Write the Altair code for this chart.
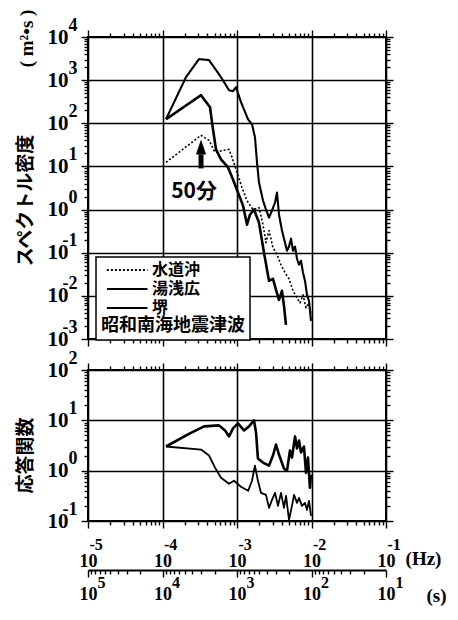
import altair as alt
import pandas as pd

# ---------------- data ----------------
# top panel: spectral density (m^2*s) vs frequency (Hz)
suido_f = [1.114e-4, 3.287e-4, 4.208e-4, 5.066e-4, 6.489e-4, 7.808e-4, 8.566e-4, 1.0e-3,
           1.167e-3, 1.362e-3, 1.640e-3, 1.973e-3, 2.234e-3, 2.450e-3, 2.688e-3, 3.042e-3,
           3.442e-3, 3.897e-3, 4.408e-3, 4.989e-3, 5.646e-3, 6.389e-3, 7.008e-3, 7.691e-3,
           8.435e-3, 9.258e-3, 9.847e-3]
suido_s = [12.4, 52.6, 40.3, 21.2, 23.6, 24.8, 16.2, 7.25, 3.25, 1.62, 1.0, 1.11, 0.448, 0.171,
           0.325, 0.131, 0.0898, 0.0526, 0.0343, 0.0248, 0.0131, 0.00898, 0.00687, 0.0105,
           0.00526, 0.00687, 0.00361]

yuasa_f = [1.114e-4, 2.067e-4, 3.089e-4, 4.208e-4, 6.098e-4, 7.808e-4, 8.837e-4, 9.695e-4,
           1.132e-3, 1.405e-3, 1.590e-3, 1.744e-3, 1.855e-3, 1.973e-3, 2.234e-3, 2.450e-3,
           2.688e-3, 2.949e-3, 3.236e-3, 3.442e-3, 3.662e-3, 4.018e-3, 4.408e-3, 4.689e-3,
           4.989e-3, 5.307e-3, 5.646e-3, 6.006e-3, 6.389e-3, 6.797e-3, 7.230e-3, 7.691e-3,
           8.182e-3, 8.703e-3, 9.258e-3, 9.847e-3]
yuasa_s = [124, 1175, 3077, 2918, 1175, 585, 555, 687, 308, 124, 94.8, 47.2, 12.4, 4.25, 1.62,
           1.0, 0.652, 0.948, 1.45, 2.48, 0.766, 0.325, 0.171, 0.111, 0.138, 0.212, 0.111,
           0.138, 0.0725, 0.0526, 0.0651, 0.0343, 0.0223, 0.0105, 0.00765, 0.00262]

sakai_f = [1.114e-4, 3.287e-4, 4.340e-4, 4.763e-4, 5.225e-4, 6.098e-4, 7.570e-4, 8.837e-4,
           1.031e-3, 1.204e-3, 1.362e-3, 1.495e-3, 1.691e-3, 1.973e-3, 2.304e-3, 2.688e-3,
           3.042e-3, 3.338e-3, 3.662e-3, 4.018e-3, 4.274e-3, 4.547e-3]
sakai_s = [124, 448, 236, 72.4, 24.8, 14.6, 9.48, 4.99, 2.48, 1.24, 0.448, 0.766, 1.0, 0.499,
           0.1, 0.0223, 0.0248, 0.0138, 0.00807, 0.0131, 0.00585, 0.00212]

# bottom panel: response function vs frequency (Hz)
resp_yuasa_f = [1.114e-4, 2.20e-4, 3.61e-4, 5.73e-4, 6.90e-4, 7.82e-4, 8.84e-4, 1.03e-3,
                1.24e-3, 1.45e-3, 1.69e-3, 1.80e-3, 1.91e-3, 2.23e-3, 2.69e-3, 3.04e-3,
                3.34e-3, 3.66e-3, 4.27e-3, 4.69e-3, 5.14e-3, 5.47e-3, 6.01e-3, 6.39e-3,
                6.80e-3, 7.23e-3, 7.92e-3, 8.43e-3, 8.97e-3, 9.53e-3, 9.85e-3]
resp_yuasa_r = [3.02, 5.25, 7.59, 7.94, 6.31, 4.79, 6.92, 8.71, 6.31, 7.59, 10.0, 5.75, 1.74,
                1.45, 1.26, 2.0, 3.31, 2.09, 1.10, 1.0, 2.51, 1.82, 4.79, 2.75, 3.98, 2.29,
                3.02, 0.91, 1.82, 0.457, 0.83]

resp_sakai_f = [1.114e-4, 3.29e-4, 4.21e-4, 5.07e-4, 6.10e-4, 7.81e-4, 9.12e-4, 1.13e-3,
                1.41e-3, 1.59e-3, 1.74e-3, 1.91e-3, 2.10e-3, 2.45e-3, 2.69e-3, 2.95e-3,
                3.24e-3, 3.55e-3, 3.90e-3, 4.27e-3, 4.55e-3, 4.99e-3, 5.47e-3, 5.82e-3,
                6.39e-3, 6.80e-3, 7.45e-3, 8.18e-3, 8.70e-3, 9.26e-3, 9.85e-3]
resp_sakai_r = [3.02, 2.63, 2.0, 1.15, 0.724, 0.550, 0.631, 0.479, 0.398, 0.631, 1.26, 0.631,
                0.363, 0.331, 0.182, 0.263, 0.363, 0.200, 0.363, 0.182, 0.316, 0.105, 0.200,
                0.331, 0.229, 0.288, 0.200, 0.229, 0.166, 0.251, 0.126]

sites = ["水道沖", "湯浅広", "堺"]
legend_title = "昭和南海地震津波"
note_text = ["50分"]
note_f = [2.65e-4]
note_v = [2.5]
arrow_f = [3.29e-4]
arrow_from = [9.0]
arrow_to = [19.0]

y_title_top = "スペクトル密度"
y_unit_top = "( m²•s )"
y_title_bot = "応答関数"
hz_unit = "(Hz)"
s_unit = "(s)"

x_domain = [1e-5, 1e-1]
top_domain = [1e-3, 1e4]
bot_domain = [1e-1, 1e2]

# tick positions (decades plus 2..9 subdivisions)
hz_ticks = [k * 10.0 ** n for n in range(-5, -1) for k in range(1, 10)] + [1e-1]
sec_ticks = [1.0 / (k * 10.0 ** n) for n in range(1, 5) for k in range(1, 10)] + [1e-5]
top_y_ticks = [k * 10.0 ** n for n in range(-3, 4) for k in range(1, 10)] + [1e4]
bot_y_ticks = [k * 10.0 ** n for n in range(-1, 2) for k in range(1, 10)] + [1e2]

# ---------------- styling helpers ----------------
SERIF = "Liberation Serif"
JP = "Noto Sans CJK JP"
MAJOR = "abs(log(datum.value)/LN10 - round(log(datum.value)/LN10)) < 0.001"
TS = {"condition": {"test": MAJOR, "value": 7}, "value": 4}
GO = {"condition": {"test": MAJOR, "value": 1}, "value": 0}
TEN = f"({MAJOR}) ? '10' : ''"
EXP = f"({MAJOR}) ? ('' + round(log(datum.value)/LN10)) : ''"
EXP_S = f"({MAJOR}) ? ('' + round(-log(datum.value)/LN10)) : ''"

xs = alt.Scale(type="log", domain=x_domain, nice=False)
ys_top = alt.Scale(type="log", domain=top_domain, nice=False)
ys_bot = alt.Scale(type="log", domain=bot_domain, nice=False)


def tick_axis(orient, values, grid=False, **kw):
    base = dict(orient=orient, values=values, domain=False, ticks=True, tickSize=TS,
                tickWidth=1.4, tickColor="black", labels=False, title=None,
                labelOverlap=False, labelFlush=False, grid=grid)
    if grid:
        base.update(gridColor="black", gridWidth=1.6, gridOpacity=GO)
    base.update(kw)
    return alt.Axis(**base)


def ten_labels(size=21, **kw):
    return dict(labels=True, labelExpr=TEN, labelFont=SERIF, labelFontSize=size,
                labelFontWeight="bold", labelColor="black", **kw)


def exp_axis(orient, values, expr, size=18, **kw):
    base = dict(orient=orient, values=values, domain=False, ticks=False, tickSize=0,
                grid=False, labels=True, labelExpr=expr, labelFont=SERIF,
                labelFontSize=size, labelFontWeight="bold", labelColor="black",
                labelOverlap=False, labelFlush=False, title=None)
    base.update(kw)
    return alt.Axis(**base)


# ---------------- top panel ----------------
top_df = pd.concat([
    pd.DataFrame({"f": suido_f, "v": suido_s, "site": sites[0]}),
    pd.DataFrame({"f": yuasa_f, "v": yuasa_s, "site": sites[1]}),
    pd.DataFrame({"f": sakai_f, "v": sakai_s, "site": sites[2]}),
])

legend = alt.Legend(
    orient="none", legendX=8, legendY=220, direction="vertical", title=legend_title,
    titleOrient="bottom", titleFont=JP, titleFontSize=18, titleFontWeight="bold",
    titleColor="black", titlePadding=1, labelFont=JP, labelFontSize=16,
    labelFontWeight="bold", labelColor="black", symbolType="M-0.3,0L5.5,0", symbolSize=196,
    symbolStrokeWidth=1.8, symbolStrokeColor="black", strokeColor="black",
    fillColor="white", padding=5, rowPadding=3, labelOffset=35,
)

top_lines = alt.Chart(top_df).mark_line(color="black", strokeJoin="round").encode(
    x=alt.X("f:Q", scale=xs, axis=tick_axis("bottom", hz_ticks, grid=True)),
    y=alt.Y("v:Q", scale=ys_top, axis=tick_axis(
        "left", top_y_ticks, grid=True, labelPadding=13,
        title=y_title_top, titleX=-63, titleY=163, titleAngle=270, titleAlign="center",
        titleBaseline="middle", titleFont=JP, titleFontSize=19, titleFontWeight="bold",
        titleColor="black", **ten_labels())),
    strokeDash=alt.StrokeDash("site:N", scale=alt.Scale(domain=sites, range=[[2, 2], [1, 0], [1, 0]]),
                              legend=legend),
    strokeWidth=alt.StrokeWidth("site:N", scale=alt.Scale(domain=sites, range=[1.6, 2.6, 1.8]),
                                legend=None),
)

top_frame = alt.Chart(top_df).mark_point(opacity=0).encode(
    x=alt.X("f:Q", scale=xs, axis=tick_axis("top", hz_ticks)),
    y=alt.Y("v:Q", scale=ys_top, axis=tick_axis("right", top_y_ticks)),
)

top_exp = alt.Chart(top_df).mark_point(opacity=0).encode(
    x=alt.X("f:Q", scale=xs, axis=None),
    y=alt.Y("v:Q", scale=ys_top, axis=exp_axis(
        "left", top_y_ticks, EXP, labelAlign="right", labelPadding=11, labelOffset=-12,
        title=y_unit_top, titleX=-62, titleY=1, titleAngle=270, titleAlign="center",
        titleBaseline="middle", titleFont=SERIF, titleFontSize=19, titleFontWeight="bold",
        titleColor="black")),
)

note_df = pd.DataFrame({"f": note_f, "v": note_v, "t": note_text})
note = alt.Chart(note_df).mark_text(font=JP, fontSize=21, fontWeight="bold", color="black",
                                    align="center", baseline="middle").encode(
    x=alt.X("f:Q", scale=xs, axis=None),
    y=alt.Y("v:Q", scale=ys_top, axis=None),
    text="t:N",
)

arrow_df = pd.DataFrame({"f": arrow_f, "a": arrow_from, "b": arrow_to})
shaft = alt.Chart(arrow_df).mark_rule(color="black", strokeWidth=5).encode(
    x=alt.X("f:Q", scale=xs, axis=None),
    y=alt.Y("a:Q", scale=ys_top, axis=None),
    y2="b:Q",
)
head = alt.Chart(arrow_df).mark_point(shape="M0,-1L0.34,0L-0.34,0Z", filled=True, size=900,
                                      color="black", opacity=1).encode(
    x=alt.X("f:Q", scale=xs, axis=None),
    y=alt.Y("b:Q", scale=ys_top, axis=None),
)

top = alt.layer(top_lines, top_frame, top_exp, note, shaft, head).resolve_axis(
    x="independent", y="independent").properties(width=298, height=302)

# ---------------- bottom panel ----------------
bot_df = pd.concat([
    pd.DataFrame({"f": resp_yuasa_f, "v": resp_yuasa_r, "site": sites[1]}),
    pd.DataFrame({"f": resp_sakai_f, "v": resp_sakai_r, "site": sites[2]}),
])

bot_lines = alt.Chart(bot_df).mark_line(color="black", strokeJoin="round").encode(
    x=alt.X("f:Q", scale=xs, axis=tick_axis(
        "bottom", hz_ticks, grid=True, labelPadding=24, labelBaseline="top",
        title=hz_unit, titleX=335, titleY=37, titleAlign="center", titleBaseline="middle",
        titleFont=SERIF, titleFontSize=19, titleFontWeight="bold", titleColor="black",
        **ten_labels(18))),
    y=alt.Y("v:Q", scale=ys_bot, axis=tick_axis(
        "left", bot_y_ticks, grid=True, labelPadding=13,
        title=y_title_bot, titleX=-63, titleY=85, titleAngle=270, titleAlign="center",
        titleBaseline="middle", titleFont=JP, titleFontSize=19, titleFontWeight="bold",
        titleColor="black", **ten_labels())),
    detail="site:N",
    strokeWidth=alt.StrokeWidth("site:N", scale=alt.Scale(domain=sites[1:], range=[2.6, 1.8]),
                                legend=None),
)

bot_frame = alt.Chart(bot_df).mark_point(opacity=0).encode(
    x=alt.X("f:Q", scale=xs, axis=tick_axis("top", hz_ticks)),
    y=alt.Y("v:Q", scale=ys_bot, axis=tick_axis("right", bot_y_ticks)),
)

bot_exp = alt.Chart(bot_df).mark_point(opacity=0).encode(
    x=alt.X("f:Q", scale=xs, axis=exp_axis("bottom", hz_ticks, EXP, size=16, labelAlign="left",
                                           labelOffset=1, labelBaseline="top",
                                           labelPadding=15)),
    y=alt.Y("v:Q", scale=ys_bot, axis=exp_axis("left", bot_y_ticks, EXP, labelAlign="right",
                                                labelPadding=11, labelOffset=-12)),
)

sec_axis = alt.Chart(bot_df).mark_point(opacity=0).encode(
    x=alt.X("f:Q", scale=xs, axis=tick_axis(
        "bottom", sec_ticks, offset=49, domain=True, domainColor="black", domainWidth=2,
        labelPadding=8, labelBaseline="top",
        title=s_unit, titleX=348, titleY=25, titleAlign="center", titleBaseline="middle",
        titleFont=SERIF, titleFontSize=19, titleFontWeight="bold", titleColor="black",
        **ten_labels(18))),
    y=alt.Y("v:Q", scale=ys_bot, axis=None),
)

sec_exp = alt.Chart(bot_df).mark_point(opacity=0).encode(
    x=alt.X("f:Q", scale=xs, axis=exp_axis("bottom", sec_ticks, EXP_S, size=16, offset=49,
                                           labelAlign="left", labelOffset=9,
                                           labelBaseline="top", labelPadding=4)),
    y=alt.Y("v:Q", scale=ys_bot, axis=None),
)

bottom = alt.layer(bot_lines, bot_frame, bot_exp, sec_axis, sec_exp).resolve_axis(
    x="independent", y="independent").properties(width=298, height=151)

chart = alt.vconcat(top, bottom, spacing=31, bounds="flush").resolve_scale(
    x="independent", y="independent", strokeWidth="independent"
).properties(
    padding={"left": 15, "top": 8, "right": 5, "bottom": 5}, background="white"
).configure_view(stroke="black", strokeWidth=2).configure_legend(strokeWidth=1.5)

chart.save("out.html", embed_options={"renderer": "svg", "actions": False})
